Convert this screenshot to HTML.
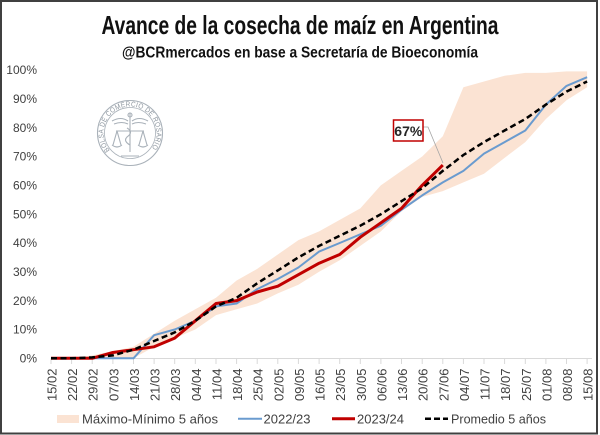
<!DOCTYPE html>
<html><head><meta charset="utf-8"><style>
html,body{margin:0;padding:0;background:#fff;}
svg{display:block;}
text{font-family:"Liberation Sans",Arial,sans-serif;}
</style></head><body>
<svg width="600" height="435" viewBox="0 0 600 435" xmlns="http://www.w3.org/2000/svg">
<rect x="0" y="0" width="600" height="435" fill="#fff"/>
<rect x="1" y="1" width="596" height="432.5" fill="none" stroke="#404040" stroke-width="2"/>

<!-- Titles -->
<text x="300" y="34" text-anchor="middle" font-size="26" font-weight="bold" fill="#111" textLength="397" lengthAdjust="spacingAndGlyphs">Avance de la cosecha de maíz en Argentina</text>
<text x="300" y="57.5" text-anchor="middle" font-size="16" font-weight="bold" fill="#111" textLength="356" lengthAdjust="spacingAndGlyphs">@BCRmercados en base a Secretaría de Bioeconomía</text>

<!-- Logo watermark -->
<g fill="none" stroke="#a9b1b9" stroke-width="1.1">
<circle cx="130" cy="133" r="32.5"/>
<circle cx="130" cy="133" r="25.5" stroke-width="0.8"/>
<path d="M112 121 Q121 116 128 121 M148 121 Q139 116 132 121 M114 124 Q122 121 128 124 M146 124 Q138 121 132 124"/>
<line x1="130" y1="113" x2="130" y2="152"/>
<circle cx="130" cy="115" r="2"/>
<line x1="116" y1="131" x2="144" y2="131"/>
<path d="M117 131 L113 145 M117 131 L121 145 M143 131 L139 145 M143 131 L147 145"/>
<path d="M112 145 Q117 149 122 145 M138 145 Q143 149 148 145"/>
<path d="M127 128 Q134 132 127 137 Q123 141 130 145"/>
<line x1="121" y1="156" x2="139" y2="156"/>
</g>
<path id="logoArc" d="M111.3 151.7 A26.5 26.5 0 1 1 148.7 151.7" fill="none"/>
<text font-size="7.2" fill="#8d969f" letter-spacing="0.3"><textPath href="#logoArc" startOffset="2" textLength="118" lengthAdjust="spacingAndGlyphs">BOLSA DE COMERCIO DE ROSARIO</textPath></text>

<!-- Y axis labels -->
<g font-size="12" fill="#404040" text-anchor="end">
<text x="37" y="362.5">0%</text>
<text x="37" y="333.7">10%</text>
<text x="37" y="304.8">20%</text>
<text x="37" y="276">30%</text>
<text x="37" y="247.2">40%</text>
<text x="37" y="218.3">50%</text>
<text x="37" y="189.5">60%</text>
<text x="37" y="160.7">70%</text>
<text x="37" y="131.8">80%</text>
<text x="37" y="103">90%</text>
<text x="37" y="74.2">100%</text>
</g>

<!-- Band Max-Min -->
<polygon fill="#fbe3d3" points="51,358.3 71.6,358.3 92.2,355.4 112.9,351.1 133.5,346.8 154.1,333.8 174.7,320.8 195.3,309.3 216,297.8 236.6,280.5 257.2,268.9 277.8,254.5 298.4,240.1 319.1,231.4 339.7,219.9 360.3,208.4 380.9,185.3 401.5,170.9 422.2,156.5 442.8,136.3 463.4,87.3 484,81.5 504.6,75.8 525.3,72.9 545.9,72.9 566.5,71.4 587.1,71.4 587.1,87.3 566.5,100.3 545.9,119 525.3,142.1 504.6,157.9 484,173.8 463.4,182.4 442.8,191.1 422.2,196.9 401.5,211.3 380.9,231.4 360.3,245.9 339.7,260.3 319.1,271.8 298.4,284.8 277.8,293.4 257.2,303.5 236.6,309.3 216,315.1 195.3,329.5 174.7,338.1 154.1,346.8 133.5,358.3 112.9,358.3 92.2,358.3 71.6,358.3 51,358.3"/>

<!-- X axis -->
<line x1="51" y1="358.5" x2="592" y2="358.5" stroke="#d9d9d9" stroke-width="1"/>
<g stroke="#d9d9d9" stroke-width="1">
<line x1="51" y1="358.5" x2="51" y2="364"/><line x1="71.6" y1="358.5" x2="71.6" y2="364"/><line x1="92.2" y1="358.5" x2="92.2" y2="364"/><line x1="112.9" y1="358.5" x2="112.9" y2="364"/><line x1="133.5" y1="358.5" x2="133.5" y2="364"/><line x1="154.1" y1="358.5" x2="154.1" y2="364"/><line x1="174.7" y1="358.5" x2="174.7" y2="364"/><line x1="195.3" y1="358.5" x2="195.3" y2="364"/><line x1="216" y1="358.5" x2="216" y2="364"/><line x1="236.6" y1="358.5" x2="236.6" y2="364"/><line x1="257.2" y1="358.5" x2="257.2" y2="364"/><line x1="277.8" y1="358.5" x2="277.8" y2="364"/><line x1="298.4" y1="358.5" x2="298.4" y2="364"/><line x1="319.1" y1="358.5" x2="319.1" y2="364"/><line x1="339.7" y1="358.5" x2="339.7" y2="364"/><line x1="360.3" y1="358.5" x2="360.3" y2="364"/><line x1="380.9" y1="358.5" x2="380.9" y2="364"/><line x1="401.5" y1="358.5" x2="401.5" y2="364"/><line x1="422.2" y1="358.5" x2="422.2" y2="364"/><line x1="442.8" y1="358.5" x2="442.8" y2="364"/><line x1="463.4" y1="358.5" x2="463.4" y2="364"/><line x1="484" y1="358.5" x2="484" y2="364"/><line x1="504.6" y1="358.5" x2="504.6" y2="364"/><line x1="525.3" y1="358.5" x2="525.3" y2="364"/><line x1="545.9" y1="358.5" x2="545.9" y2="364"/><line x1="566.5" y1="358.5" x2="566.5" y2="364"/><line x1="587.1" y1="358.5" x2="587.1" y2="364"/>
</g>
<g font-size="13" fill="#404040" text-anchor="end">
<text transform="translate(56.5,368.5) rotate(-90)">15/02</text>
<text transform="translate(77.1,368.5) rotate(-90)">22/02</text>
<text transform="translate(97.7,368.5) rotate(-90)">29/02</text>
<text transform="translate(118.4,368.5) rotate(-90)">07/03</text>
<text transform="translate(139,368.5) rotate(-90)">14/03</text>
<text transform="translate(159.6,368.5) rotate(-90)">21/03</text>
<text transform="translate(180.2,368.5) rotate(-90)">28/03</text>
<text transform="translate(200.8,368.5) rotate(-90)">04/04</text>
<text transform="translate(221.5,368.5) rotate(-90)">11/04</text>
<text transform="translate(242.1,368.5) rotate(-90)">18/04</text>
<text transform="translate(262.7,368.5) rotate(-90)">25/04</text>
<text transform="translate(283.3,368.5) rotate(-90)">02/05</text>
<text transform="translate(303.9,368.5) rotate(-90)">09/05</text>
<text transform="translate(324.6,368.5) rotate(-90)">16/05</text>
<text transform="translate(345.2,368.5) rotate(-90)">23/05</text>
<text transform="translate(365.8,368.5) rotate(-90)">30/05</text>
<text transform="translate(386.4,368.5) rotate(-90)">06/06</text>
<text transform="translate(407,368.5) rotate(-90)">13/06</text>
<text transform="translate(427.7,368.5) rotate(-90)">20/06</text>
<text transform="translate(448.3,368.5) rotate(-90)">27/06</text>
<text transform="translate(468.9,368.5) rotate(-90)">04/07</text>
<text transform="translate(489.5,368.5) rotate(-90)">11/07</text>
<text transform="translate(510.1,368.5) rotate(-90)">18/07</text>
<text transform="translate(530.8,368.5) rotate(-90)">25/07</text>
<text transform="translate(551.4,368.5) rotate(-90)">01/08</text>
<text transform="translate(572,368.5) rotate(-90)">08/08</text>
<text transform="translate(592.6,368.5) rotate(-90)">15/08</text>
</g>

<!-- 2022/23 -->
<polyline fill="none" stroke="#6a9bcf" stroke-width="2" stroke-linejoin="round" points="51,358.3 71.6,358.3 92.2,358.3 112.9,358.3 133.5,358.3 154.1,335.2 174.7,329.5 195.3,320.8 216,306.4 236.6,303.5 257.2,289.1 277.8,279 298.4,267.5 319.1,251.6 339.7,243 360.3,234.3 380.9,225.7 401.5,209.8 422.2,195.4 442.8,182.4 463.4,170.9 484,153.6 504.6,142.1 525.3,130.5 545.9,104.6 566.5,85.9 587.1,77.2"/>

<!-- 2023/24 -->
<polyline fill="none" stroke="#c00000" stroke-width="3" stroke-linejoin="round" points="51,358.3 71.6,358.3 92.2,358.3 112.9,352.5 133.5,349.7 154.1,346.8 174.7,338.1 195.3,320.8 216,303.5 236.6,300.6 257.2,292 277.8,286.2 298.4,274.7 319.1,263.2 339.7,254.5 360.3,237.2 380.9,222.8 401.5,208.4 422.2,185.3 442.8,165.1"/>

<!-- Promedio -->
<polyline fill="none" stroke="#000" stroke-width="2.5" stroke-dasharray="6,3.5" points="51,358.3 71.6,358.3 92.2,357.4 112.9,355.4 133.5,349.7 154.1,341 174.7,332.4 195.3,320.8 216,306.4 236.6,297.8 257.2,283.3 277.8,270.4 298.4,257.4 319.1,245.9 339.7,235.8 360.3,225.7 380.9,214.2 401.5,201.2 422.2,188.2 442.8,170.9 463.4,155 484,142.1 504.6,130.5 525.3,119 545.9,104.6 566.5,91.6 587.1,81.5"/>

<!-- Data label -->
<polyline fill="none" stroke="#a6a6a6" stroke-width="0.8" points="423,127 428,127 443,163"/>
<rect x="393.5" y="120" width="29.5" height="21" fill="#fff" stroke="#c00000" stroke-width="1.5"/>
<text x="408.3" y="135.8" text-anchor="middle" font-size="14" font-weight="bold" fill="#262626">67%</text>

<!-- Legend -->
<rect x="57" y="415" width="22" height="8" fill="#fbe3d3"/>
<text x="82" y="423.3" font-size="13" fill="#404040" textLength="136" lengthAdjust="spacingAndGlyphs">Máximo-Mínimo 5 años</text>
<line x1="238" y1="418.7" x2="262" y2="418.7" stroke="#6a9bcf" stroke-width="2"/>
<text x="263.5" y="423.3" font-size="13" fill="#404040">2022/23</text>
<line x1="332" y1="418.7" x2="355" y2="418.7" stroke="#c00000" stroke-width="3"/>
<text x="357" y="423.3" font-size="13" fill="#404040">2023/24</text>
<line x1="425" y1="418.7" x2="448" y2="418.7" stroke="#000" stroke-width="2.5" stroke-dasharray="6,3"/>
<text x="451" y="423.3" font-size="13" fill="#404040" textLength="95" lengthAdjust="spacingAndGlyphs">Promedio 5 años</text>
</svg>
</body></html>
